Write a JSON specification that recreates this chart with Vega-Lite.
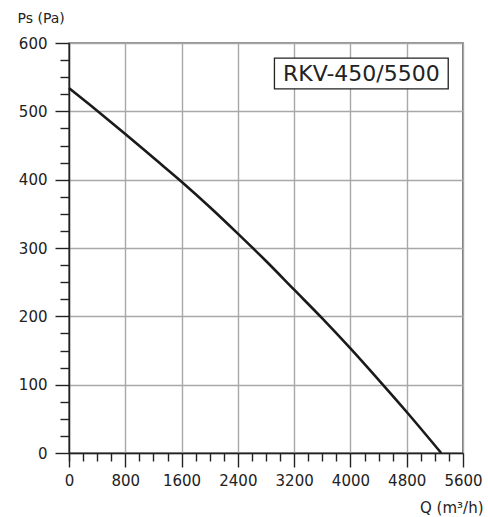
{
  "$schema": "https://vega.github.io/schema/vega-lite/v6.json",
  "width": 394,
  "height": 410,
  "autosize": "none",
  "padding": {"left": 69, "top": 43, "right": 25, "bottom": 64},
  "background": "white",
  "config": {
    "font": "DejaVu Sans",
    "view": {"stroke": "#222222", "strokeWidth": 1.4},
    "axis": {
      "domainColor": "#222222",
      "domainWidth": 1.4,
      "tickColor": "#222222",
      "tickWidth": 1.4,
      "labelColor": "#222222",
      "labelFontSize": 15,
      "labelFont": "DejaVu Sans",
      "titleFont": "DejaVu Sans",
      "titleColor": "#222222",
      "titleFontSize": 14,
      "titleFontWeight": "normal",
      "gridColor": "#a8a8a8",
      "gridWidth": 1.4,
      "gridOpacity": 1
    }
  },
  "datasets": {
    "curve": [
      {"Q": 0, "Ps": 534},
      {"Q": 400, "Ps": 501},
      {"Q": 800, "Ps": 467},
      {"Q": 1200, "Ps": 432},
      {"Q": 1600, "Ps": 397},
      {"Q": 2000, "Ps": 360},
      {"Q": 2400, "Ps": 321},
      {"Q": 2800, "Ps": 281},
      {"Q": 3200, "Ps": 239},
      {"Q": 3600, "Ps": 197},
      {"Q": 4000, "Ps": 153},
      {"Q": 4400, "Ps": 107},
      {"Q": 4800, "Ps": 60},
      {"Q": 5290, "Ps": 0}
    ],
    "box": [
      {"label": "RKV-450/5500", "q1": 2920, "q2": 5390, "p1": 533, "p2": 578, "qc": 4155, "pc": 555}
    ]
  },
  "layer": [
    {
      "data": {"name": "curve"},
      "mark": {"type": "point", "opacity": 0},
      "encoding": {
        "x": {
          "field": "Q", "type": "quantitative",
          "scale": {"domain": [0, 5600], "nice": false, "zero": false},
          "axis": {
            "orient": "bottom",
            "values": [0, 200, 400, 600, 1000, 1200, 1400, 1800, 2000, 2200, 2600, 2800, 3000, 3400, 3600, 3800, 4200, 4400, 4600, 5000, 5200, 5400],
            "labels": false, "grid": false, "domain": false, "tickSize": 8, "title": null
          }
        },
        "y": {
          "field": "Ps", "type": "quantitative",
          "scale": {"domain": [0, 600], "nice": false},
          "axis": {
            "orient": "left",
            "values": [25, 50, 75, 125, 150, 175, 225, 250, 275, 325, 350, 375, 425, 450, 475, 525, 550, 575],
            "labels": false, "grid": false, "domain": false, "tickSize": 9, "title": null
          }
        }
      }
    },
    {
      "data": {"name": "curve"},
      "mark": {"type": "line", "color": "#1a1a1a", "strokeWidth": 2.6, "interpolate": "monotone"},
      "encoding": {
        "x": {
          "field": "Q", "type": "quantitative",
          "scale": {"domain": [0, 5600], "nice": false, "zero": false},
          "axis": {
            "orient": "bottom",
            "values": [0, 800, 1600, 2400, 3200, 4000, 4800, 5600],
            "format": "d",
            "tickSize": 14,
            "labelPadding": 6,
            "labelFlush": false,
            "labelOverlap": false,
            "grid": true,
            "title": "Q (m³/h)",
            "titleFontSize": 15,
            "titleX": 414,
            "titleY": 59,
            "titleAlign": "right",
            "titleBaseline": "alphabetic"
          }
        },
        "y": {
          "field": "Ps", "type": "quantitative",
          "scale": {"domain": [0, 600], "nice": false},
          "axis": {
            "orient": "left",
            "values": [0, 100, 200, 300, 400, 500, 600],
            "format": "d",
            "tickSize": 14,
            "labelPadding": 8,
            "grid": true,
            "title": "Ps (Pa)",
            "titleAngle": 0,
            "titleX": -52,
            "titleY": -21,
            "titleAlign": "left",
            "titleBaseline": "alphabetic"
          }
        }
      }
    },
    {
      "data": {"name": "box"},
      "mark": {"type": "rect", "fill": "white", "stroke": "#222222", "strokeWidth": 1.3},
      "encoding": {
        "x": {"field": "q1", "type": "quantitative", "axis": null},
        "x2": {"field": "q2"},
        "y": {"field": "p1", "type": "quantitative", "axis": null},
        "y2": {"field": "p2"}
      }
    },
    {
      "data": {"name": "box"},
      "mark": {"type": "text", "font": "DejaVu Sans", "fontSize": 22, "color": "#222222", "align": "center", "baseline": "middle"},
      "encoding": {
        "x": {"field": "qc", "type": "quantitative", "axis": null},
        "y": {"field": "pc", "type": "quantitative", "axis": null},
        "text": {"field": "label"}
      }
    }
  ],
  "resolve": {"axis": {"x": "independent", "y": "independent"}}
}
